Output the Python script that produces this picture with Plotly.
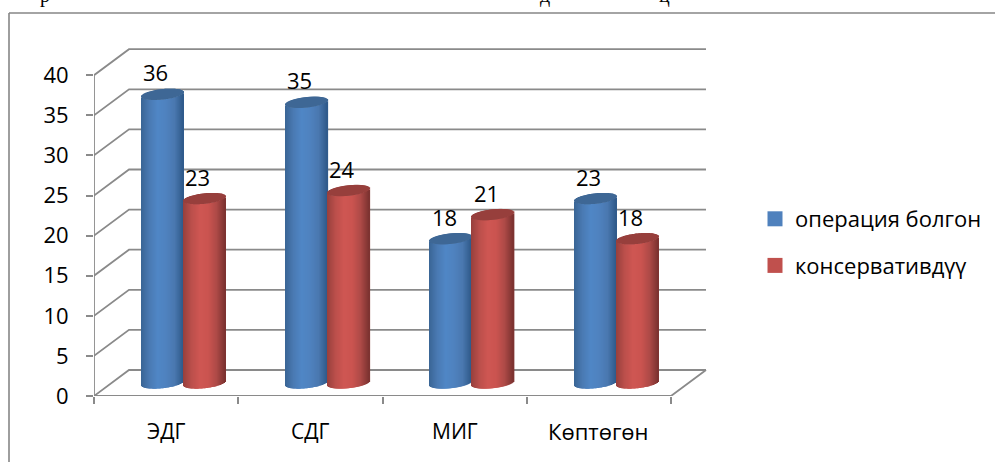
import numpy as np
import plotly.graph_objects as go

# Chart data
categories = ["ЭДГ", "СДГ", "МИГ", "Көптөгөн"]
operated = [36, 35, 18, 23]
conservative = [23, 24, 21, 18]
series_names = ["операция болгон", "консервативдүү"]
y_ticks = [0, 5, 10, 15, 20, 25, 30, 35, 40]

# Pixel frame: the plot area encloses the whole pseudo-3D box
LEFT, RIGHT, TOP, BOTTOM = 94, 709, 45, 396
PW, PH = RIGHT - LEFT, BOTTOM - TOP
UX = 144.25          # px per category
UY = 8.02            # px per value unit
DEPTH_X, DEPTH_Y = 35, 26   # box depth, in px
GRID = "#8a8a8a"
FONT = "Open Sans"
TEXT_SIZE = 22

BAR_PX = 42
X_RANGE = [0.5, 0.5 + PW / UX]
Y_RANGE = [0, PH / UY]
# Bars stand on the mid-depth plane: a second axis pair shifted by half the depth
X2_RANGE = [X_RANGE[0] - DEPTH_X / 2 / UX, X_RANGE[1] - DEPTH_X / 2 / UX]
Y2_RANGE = [Y_RANGE[0] - DEPTH_Y / 2 / UY, Y_RANGE[1] - DEPTH_Y / 2 / UY]


def cylinder(values, side, ramp, cap_color):
    """Return two bar traces (shaft and cap) built from 1px vertical strips."""
    strips = np.arange(BAR_PX)
    t = (strips + 0.5) / BAR_PX * 2 - 1
    tilt = 2.2 / UY * t
    arc = 5.2 / UY * np.sqrt(1 - t ** 2)
    px = np.linspace(0, 1, len(ramp))
    rgb = np.array([[int(c[i:i + 2], 16) for i in (1, 3, 5)] for c in ramp], float)
    f = (strips + 0.5) / BAR_PX
    shades = ["rgb(%d,%d,%d)" % tuple(np.interp(v, px, rgb[:, k]) for k in range(3)) for v in f]
    xs, bases, heights, colors, cap_base, cap_h = [], [], [], [], [], []
    for i, v in enumerate(values):
        centre = i + 1 + side * BAR_PX / 2 / UX
        for s in strips:
            xs.append(centre + (s + 0.5 - BAR_PX / 2) / UX)
            low = tilt[s] - arc[s]
            bases.append(low)
            heights.append(v + tilt[s] - arc[s] - low)
            colors.append(shades[s])
            cap_base.append(v + tilt[s] - arc[s])
            cap_h.append(2 * arc[s])
    common = dict(x=xs, width=1.5 / UX, xaxis="x2", yaxis="y2", showlegend=False,
                  hoverinfo="skip", cliponaxis=False, marker_line_width=0)
    return [
        go.Bar(y=heights, base=bases, marker_color=colors, **common),
        go.Bar(y=cap_h, base=cap_base, marker_color=cap_color, **common),
    ]


fig = go.Figure()
line_style = dict(color=GRID, width=1.8)

# Left wall diagonals and back wall lines at every tick
start_x = 0.5 + DEPTH_X / UX
back_x = 4.5 + DEPTH_X / UX
dy = DEPTH_Y / UY
for v in y_ticks:
    fig.add_trace(go.Scatter(
        x=[0.5, start_x, back_x], y=[v, v + dy, v + dy], mode="lines",
        line=line_style, showlegend=False, hoverinfo="skip"))
# Front edge of the floor, its right edge, and the value axis line
fig.add_trace(go.Scatter(
    x=[0.5, 4.5, back_x], y=[0, 0, dy], mode="lines", line=line_style,
    showlegend=False, hoverinfo="skip"))
fig.add_trace(go.Scatter(
    x=[0.5, 0.5], y=[0, 40], mode="lines", line=line_style,
    showlegend=False, hoverinfo="skip", cliponaxis=False))

blue_ramp = ["#3a6595", "#4a7ab3", "#5087c6", "#4f82bf", "#4a78b0", "#2f5a8a"]
red_ramp = ["#97403d", "#bb4f4b", "#cf5753", "#cb5450", "#ae4a47", "#7b3230"]
for tr in cylinder(operated, -1, blue_ramp, "#3e6795"):
    fig.add_trace(tr)
for tr in cylinder(conservative, 1, red_ramp, "#973f3c"):
    fig.add_trace(tr)

# Legend entries
for name, color in zip(series_names, ["#4f81bd", "#c0504d"]):
    fig.add_trace(go.Scatter(
        x=[None], y=[None], mode="markers", name=name, legendgroup=name,
        marker=dict(symbol="square", size=15, color=color)))

# Value labels above each cylinder
annotations = []
for values, side in ((operated, -1), (conservative, 1)):
    for i, v in enumerate(values):
        annotations.append(dict(
            x=i + 1 + side * BAR_PX / 2 / UX, y=v, xref="x2", yref="y2", text=str(v),
            showarrow=False, xshift=-7, yshift=22, xanchor="center", yanchor="middle",
            font=dict(family=FONT, size=TEXT_SIZE, color="black")))

# Category names under the box
for i, name in enumerate(categories):
    annotations.append(dict(
        x=i + 1, y=0, xref="x", yref="y", text=name, showarrow=False,
        xanchor="center", yanchor="middle", yshift=-35,
        font=dict(family=FONT, size=21 if i < 3 else 22, color="black")))

# Descenders of the line of body text running along the top edge
for text, px_x in (("р", 45), ("д", 545), ("ц", 664)):
    annotations.append(dict(
        x=(px_x - LEFT) / PW, y=(BOTTOM - 9) / PH, xref="paper", yref="paper", text=text,
        showarrow=False, xanchor="center", yanchor="bottom",
        font=dict(family="Liberation Serif", size=20, color="black")))

frame = dict(type="line", xref="paper", yref="paper", line=dict(color="#868686", width=1.6))
shapes = [
    dict(frame, x0=(9 - LEFT) / PW, x1=(995 - LEFT) / PW, y0=(BOTTOM - 13) / PH, y1=(BOTTOM - 13) / PH),
    dict(frame, x0=(9 - LEFT) / PW, x1=(9 - LEFT) / PW, y0=(BOTTOM - 13) / PH, y1=(BOTTOM - 462) / PH),
]

fig.update_layout(
    width=995, height=462, autosize=False,
    margin=dict(l=LEFT, r=995 - RIGHT, t=TOP, b=462 - BOTTOM, pad=0),
    paper_bgcolor="white", plot_bgcolor="rgba(0,0,0,0)", barmode="overlay",
    font=dict(family=FONT, size=TEXT_SIZE, color="black"),
    annotations=annotations, shapes=shapes,
    xaxis=dict(range=X_RANGE, tickmode="array", tickvals=[0.5, 1.5, 2.5, 3.5, 4.5],
               ticktext=["", "", "", "", ""], ticks="outside", ticklen=7, tickcolor=GRID,
               tickwidth=1.6, showline=False, showgrid=False, zeroline=False),
    yaxis=dict(range=Y_RANGE, tickmode="array", tickvals=y_ticks, ticks="outside", ticklen=7,
               tickcolor=GRID, tickwidth=1.6, showline=False, showgrid=False, zeroline=False,
               ticklabelstandoff=13, tickfont=dict(family=FONT, size=TEXT_SIZE)),
    xaxis2=dict(range=X2_RANGE, overlaying="x", visible=False),
    yaxis2=dict(range=Y2_RANGE, overlaying="y", visible=False),
    legend=dict(xref="container", yref="container", x=755 / 995, y=1 - 198 / 462,
                xanchor="left", yanchor="top",
                tracegroupgap=15, itemsizing="trace", bgcolor="rgba(0,0,0,0)",
                font=dict(family=FONT, size=22), itemclick=False, itemdoubleclick=False),
)

fig.write_html("out.html")
